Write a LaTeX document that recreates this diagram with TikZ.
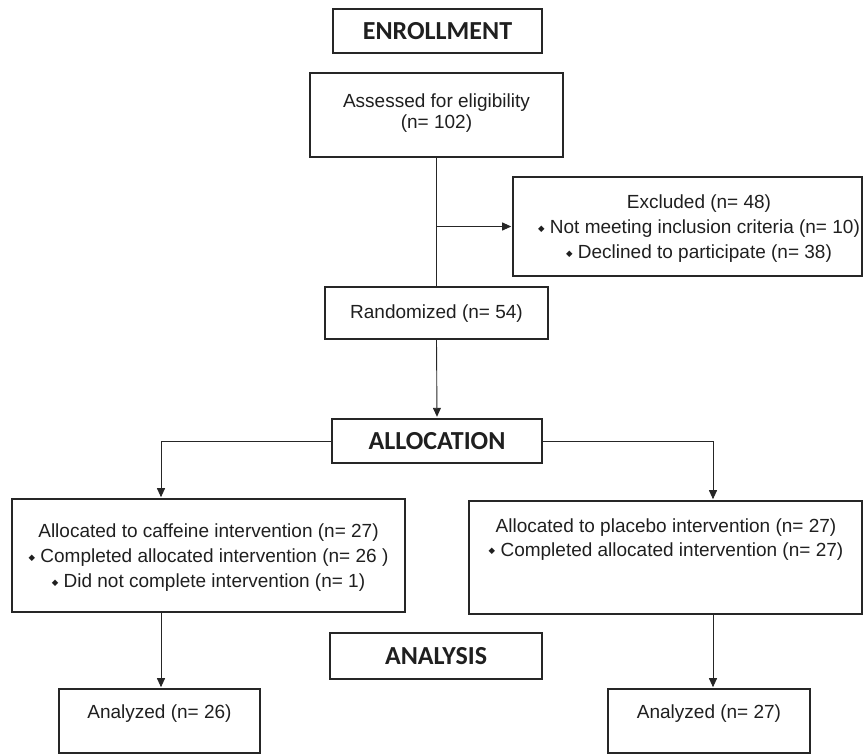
\documentclass[tikz,border=0pt]{standalone}
\usepackage{fontspec}
\setmainfont{Liberation Sans}
\newfontfamily\headfont{Carlito}
\newfontfamily\symfont{DejaVu Sans}
\usetikzlibrary{arrows.meta,positioning,calc}
\newcommand{\bul}{\raisebox{2.5pt}{\symfont\fontsize{8.5}{8.5}\selectfont ◆}\ }
\tikzset{
  headbox/.style={draw=black!85, line width=2.6pt, inner sep=0pt, font=\headfont\bfseries\fontsize{26}{26}\selectfont, text=black!88},
  plainbox/.style={draw=black!85, line width=1.8pt, inner sep=0pt},
  txt/.style={inner sep=0pt, align=center, font=\fontsize{19}{24}\selectfont, text=black!88},
  conn/.style={draw=black!85, line width=0.9pt},
  arr/.style={conn, -{Triangle[length=9pt,width=8pt]}, shorten >=0.9pt}
}
\begin{document}
\begin{tikzpicture}[x=1pt,y=-1pt]
\useasboundingbox (0,0) rectangle (863,755);
% header boxes
\node[headbox, minimum width=209pt, minimum height=44pt] (enr) at (437.5,31) {ENROLLMENT};
\node[headbox, minimum width=210pt, minimum height=44pt] (alloc) at (437,441) {ALLOCATION};
\node[headbox, minimum width=212pt, minimum height=46pt] (ana) at (436,656) {ANALYSIS};
% content boxes
\node[plainbox, minimum width=253pt, minimum height=84pt] (assess) at (436.5,115) {};
\node[txt, font=\fontsize{19}{21}\selectfont] (assesst) at (436.5,113) {Assessed for eligibility\\(n= 102)};
\node[plainbox, minimum width=349pt, minimum height=99pt] (excl) at (687.5,226.5) {};
\node[txt, font=\fontsize{19}{25}\selectfont] (exclt) at (699,229) {Excluded (n= 48)\\\bul Not meeting inclusion criteria (n= 10)\\\bul Declined to participate (n= 38)};
\node[plainbox, minimum width=223pt, minimum height=52pt] (rand) at (436.5,313) {};
\node[txt] (randt) at (436.5,314) {Randomized (n= 54)};
\node[plainbox, minimum width=393pt, minimum height=113pt] (lbox) at (208.5,555.5) {};
\node[txt, font=\fontsize{19}{25}\selectfont] (lboxt) at (208.5,558) {Allocated to caffeine intervention (n= 27)\\\bul Completed allocated intervention (n= 26 )\\\bul Did not complete intervention (n= 1)};
\node[plainbox, minimum width=393pt, minimum height=113pt] (rbox) at (665.5,557.5) {};
\node[txt, font=\fontsize{19}{24}\selectfont] (rboxt) at (666,539.5) {Allocated to placebo intervention (n= 27)\\\bul Completed allocated intervention (n= 27)};
\node[plainbox, minimum width=201pt, minimum height=64pt] (anl) at (159.5,721) {};
\node[txt] (anlt) at (159.5,714) {Analyzed (n= 26)};
\node[plainbox, minimum width=202pt, minimum height=64pt] (anr) at (709,721) {};
\node[txt] (anrt) at (709,714) {Analyzed (n= 27)};
% columns
\coordinate (colL) at (161,0);
\coordinate (colR) at (713,0);
% connectors
\draw[conn] (assess.south) -- (rand.north);
\draw[arr] (assess.south |- excl.west) -- (excl.west);
\draw[arr] (rand.south) -- (alloc.north);
\draw[arr] (alloc.west) -| (colL |- lbox.north);
\draw[arr] (alloc.east) -| (colR |- rbox.north);
\draw[arr] (colL |- lbox.south) -- (colL |- anl.north);
\draw[arr] (colR |- rbox.south) -- (colR |- anr.north);
\end{tikzpicture}
\end{document}
